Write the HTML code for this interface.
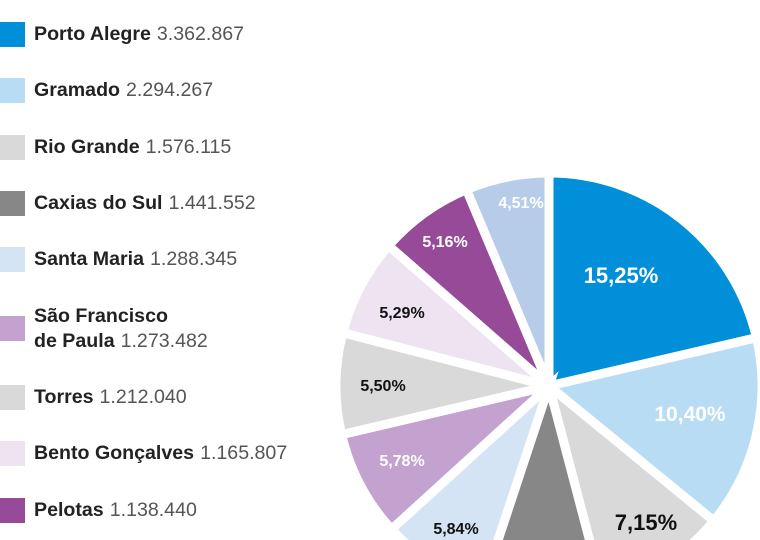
<!DOCTYPE html>
<html><head><meta charset="utf-8"><style>
html,body{margin:0;width:760px;height:540px;overflow:hidden;background:#fff;font-family:"Liberation Sans",sans-serif;position:relative}
.sq{position:absolute;left:0;width:25px;height:25px}
.t{position:absolute;left:34px;font-size:19.6px;color:#1a1a1a;line-height:25px;white-space:nowrap}
.t b{font-weight:bold;color:#222}
.t span{color:#555;margin-left:6px}
svg{position:absolute;left:0;top:0}
</style></head><body>
<div class="sq" style="top:22px;background:#008fd8"></div><div class="t" style="top:22px"><b>Porto Alegre</b><span>3.362.867</span></div>
<div class="sq" style="top:78px;background:#b9dcf5"></div><div class="t" style="top:78px"><b>Gramado</b><span>2.294.267</span></div>
<div class="sq" style="top:135px;background:#d9d9d9"></div><div class="t" style="top:135px"><b>Rio Grande</b><span>1.576.115</span></div>
<div class="sq" style="top:191px;background:#878787"></div><div class="t" style="top:191px"><b>Caxias do Sul</b><span>1.441.552</span></div>
<div class="sq" style="top:247px;background:#d5e4f4"></div><div class="t" style="top:247px"><b>Santa Maria</b><span>1.288.345</span></div>
<div class="sq" style="top:316px;background:#c3a2d0"></div><div class="t" style="top:304px"><b>São Francisco</b></div><div class="t" style="top:329px"><b>de Paula</b><span>1.273.482</span></div>
<div class="sq" style="top:385px;background:#d9d9d9"></div><div class="t" style="top:385px"><b>Torres</b><span>1.212.040</span></div>
<div class="sq" style="top:441px;background:#ede3f1"></div><div class="t" style="top:441px"><b>Bento Gonçalves</b><span>1.165.807</span></div>
<div class="sq" style="top:498px;background:#964a98"></div><div class="t" style="top:498px"><b>Pelotas</b><span>1.138.440</span></div>
<svg width="760" height="540" viewBox="0 0 760 540">
<g stroke="#fff" stroke-width="9" stroke-linejoin="miter">
<path d="M549,386 L549,173 A213,213 0 0 1 756.5,337.7 Z" fill="#008fd8"/>
<path d="M549,386 L756.5,337.7 A213,213 0 0 1 713.8,520.9 Z" fill="#b9dcf5"/>
<path d="M549,386 L713.8,520.9 A213,213 0 0 1 603.1,592 Z" fill="#d9d9d9"/>
<path d="M549,386 L603.1,592 A213,213 0 0 1 482.1,588.2 Z" fill="#878787"/>
<path d="M549,386 L482.1,588.2 A213,213 0 0 1 391.5,529.3 Z" fill="#d5e4f4"/>
<path d="M549,386 L391.5,529.3 A213,213 0 0 1 341.6,434.6 Z" fill="#c3a2d0"/>
<path d="M549,386 L341.6,434.6 A213,213 0 0 1 342.8,332.7 Z" fill="#d9d9d9"/>
<path d="M549,386 L342.8,332.7 A213,213 0 0 1 388.7,245.7 Z" fill="#ede3f1"/>
<path d="M549,386 L388.7,245.7 A213,213 0 0 1 466.5,189.6 Z" fill="#964a98"/>
<path d="M549,386 L466.5,189.6 A213,213 0 0 1 549,173 Z" fill="#b6cce8"/>
</g>
<g font-family="Liberation Sans,sans-serif" font-weight="bold" text-anchor="middle">
<text x="621" y="283" font-size="22" fill="#fff">15,25%</text>
<text x="690" y="421" font-size="21" fill="#fff">10,40%</text>
<text x="646" y="530" font-size="22" fill="#111">7,15%</text>
<text x="456" y="534" font-size="16" fill="#111">5,84%</text>
<text x="402" y="466" font-size="16" fill="#fff">5,78%</text>
<text x="383" y="391" font-size="16" fill="#111">5,50%</text>
<text x="402" y="318" font-size="16" fill="#111">5,29%</text>
<text x="445" y="247" font-size="16" fill="#fff">5,16%</text>
<text x="521" y="208" font-size="16" fill="#fff">4,51%</text>
</g>
</svg>
</body></html>
